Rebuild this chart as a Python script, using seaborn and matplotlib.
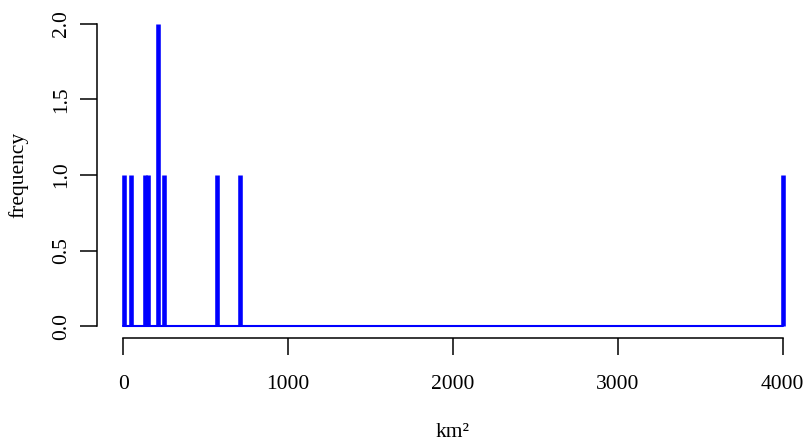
import matplotlib
matplotlib.use("Agg")
import matplotlib.pyplot as plt
import numpy as np
import pandas as pd
import seaborn as sns

# Observed areas (km^2) and how often each occurs
areas = [6, 47, 129, 152, 208, 246, 570, 708, 4000]
counts = [1, 1, 1, 1, 2, 1, 1, 1, 1]

x_ticks = [0, 1000, 2000, 3000, 4000]
y_ticks = [0.0, 0.5, 1.0, 1.5, 2.0]

sns.set_theme(style="ticks")
plt.rcParams["font.family"] = ["Liberation Serif", "DejaVu Serif"]

# One vertical segment per observed area, rising from zero to its count
spikes = pd.DataFrame({
    "area": np.repeat(areas, 2),
    "freq": np.ravel([[0, c] for c in counts]),
    "id": np.repeat(np.arange(len(areas)), 2),
})
base = pd.DataFrame({"area": [0, max(areas)], "freq": [0, 0]})

W, H = 806, 441
fig = plt.figure(figsize=(W / 100, H / 100), dpi=100)
ax = fig.add_axes([97 / W, (H - 338.1) / H, 712 / W, 326.2 / H])

sns.lineplot(data=base, x="area", y="freq", color="#0000ff", lw=1.5,
             ax=ax, estimator=None)
sns.lineplot(data=spikes, x="area", y="freq", units="id", estimator=None,
             color="#0000ff", lw=3.3, ax=ax, solid_capstyle="butt")

ax.set_xlim(-160, 4160)
ax.set_ylim(-0.08, 2.08)
ax.set_xticks(x_ticks)
ax.set_xticklabels([f"{t:d}" for t in x_ticks])
ax.set_yticks(y_ticks)
ax.set_yticklabels([f"{t:.1f}" for t in y_ticks], rotation=90, va="center")

for side in ("top", "right"):
    ax.spines[side].set_visible(False)
ax.spines["left"].set_bounds(0, 2)
ax.spines["bottom"].set_bounds(0, 4000)
for side in ("left", "bottom"):
    ax.spines[side].set_linewidth(1.1)
    ax.spines[side].set_color("black")
ax.tick_params(axis="both", length=12.5, width=1.1, color="black",
               labelsize=15.5, labelcolor="black")
ax.tick_params(axis="x", pad=14)
ax.tick_params(axis="y", pad=6)

ax.set_xlabel("km²", fontsize=15.5, labelpad=21, color="black")
ax.set_ylabel("frequency", fontsize=15.5, labelpad=17, color="black")

fig.savefig("out.png", dpi=100)
